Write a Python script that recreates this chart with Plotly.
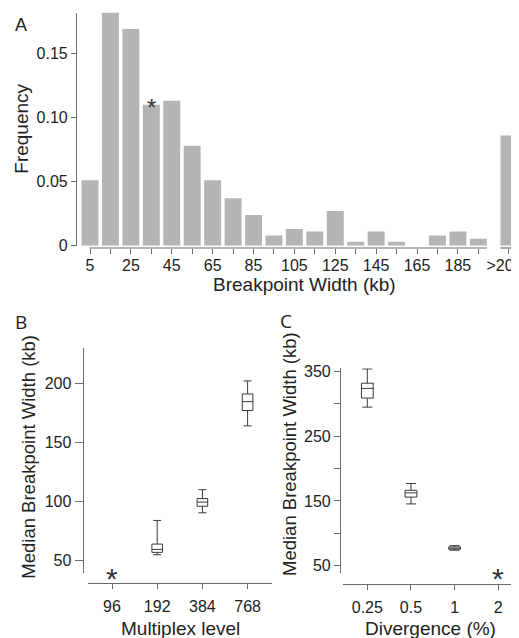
import plotly.graph_objects as go

# ---------------- data ----------------
# Panel A: histogram of breakpoint widths
bin_centers = [5, 15, 25, 35, 45, 55, 65, 75, 85, 95, 105, 115, 125, 135, 145, 155, 165, 175, 185, 195]
bin_freq = [0.051, 0.182, 0.169, 0.110, 0.113, 0.078, 0.051, 0.037, 0.024, 0.008,
            0.013, 0.011, 0.027, 0.003, 0.011, 0.003, 0.0, 0.008, 0.011, 0.0055]
bin_labels = ["5", "", "25", "", "45", "", "65", "", "85", "", "105", "", "125", "", "145", "", "165", "", "185", ""]
overflow_pos = 210
overflow_label = ">200"
overflow_freq = 0.086
starred_bin = 35

# Panel B: median breakpoint width by multiplex level
multiplex_levels = ["96", "192", "384", "768"]
mplx_box_idx = [1, 2, 3]
mplx_lowerfence = [55, 90.5, 164]
mplx_q1 = [57, 96, 177]
mplx_median = [59.5, 99.5, 184.5]
mplx_q3 = [64, 102.5, 191]
mplx_upperfence = [84, 110, 202]
mplx_star_idx = 0
mplx_star_value = 40

# Panel C: median breakpoint width by divergence
divergence_levels = ["0.25", "0.5", "1", "2"]
div_box_idx = [0, 1, 2]
div_lowerfence = [295, 145.5, 74]
div_q1 = [309, 156, 75.5]
div_median = [324, 162.5, 77]
div_q3 = [332, 166.5, 79]
div_upperfence = [354, 177, 81]
div_star_idx = 3
div_star_value = 40

# ---------------- figure ----------------
# the page body has an 8px margin, so the figure is 8px smaller and
# page coordinates are shifted by 8px
OFF = 8
PAGE_W, PAGE_H = 519, 638
W, H = PAGE_W - OFF, PAGE_H - OFF
def px(x):
    return (x - OFF) / W
def py(y):
    return 1 - (y - OFF) / H

AX = "#6a6a6a"
TXT = "#222222"
FONT = "Liberation Sans, Arial, sans-serif"

fig = go.Figure()

fig.add_trace(go.Bar(x=bin_centers + [overflow_pos], y=bin_freq + [overflow_freq], width=8.3,
                     marker=dict(color="#b5b5b5", line=dict(width=0)),
                     xaxis="x", yaxis="y", hoverinfo="skip"))

box_style = dict(fillcolor="rgba(0,0,0,0)", line=dict(color="#3a3a3a", width=1), boxpoints=False)
fig.add_trace(go.Box(x=mplx_box_idx, q1=mplx_q1, median=mplx_median, q3=mplx_q3,
                     lowerfence=mplx_lowerfence, upperfence=mplx_upperfence,
                     width=0.235, whiskerwidth=0.75, xaxis="x2", yaxis="y2", **box_style))
fig.add_trace(go.Box(x=div_box_idx, q1=div_q1, median=div_median, q3=div_q3,
                     lowerfence=div_lowerfence, upperfence=div_upperfence,
                     width=0.27, whiskerwidth=0.85, xaxis="x3", yaxis="y3", **box_style))

xA_range = [-1.36, 214.9]
xA_pos = py(248)

common_tick = dict(ticks="outside", tickcolor=AX, tickwidth=1.2, showgrid=False, zeroline=False,
                   automargin=False, tickfont=dict(size=16, color=TXT, family=FONT))

fig.update_layout(
    template="none",
    width=W, height=H, margin=dict(l=0, r=0, t=0, b=0, pad=0, autoexpand=False),
    paper_bgcolor="white", plot_bgcolor="white", showlegend=False,
    barmode="overlay",
    font=dict(family=FONT, size=16, color=TXT),
    xaxis=dict(domain=[px(77), 1], range=xA_range, anchor="free", position=xA_pos,
               tickvals=bin_centers + [overflow_pos],
               ticktext=bin_labels + [overflow_label + "\u00a0\u00a0"],
               ticklabeloverflow="allow", ticklabelstandoff=-2,
               showline=False, ticklen=5, tickangle=0, **common_tick),
    yaxis=dict(domain=[py(245.7), py(12.7)], range=[0, 0.1817], anchor="x",
               tickvals=[0, 0.05, 0.10, 0.15], ticktext=["0", "0.05", "0.10", "0.15"],
               showline=True, linecolor=AX, linewidth=1.2, ticklen=5, **common_tick),
    xaxis2=dict(domain=[px(87.7), px(271.7)], range=[-0.5376, 3.533], anchor="free", position=py(582.7),
                tickvals=[0, 1, 2, 3], ticktext=multiplex_levels, ticklabelstandoff=4,
                showline=True, linecolor=AX, linewidth=1.2, ticklen=5, **common_tick),
    yaxis2=dict(domain=[py(572.7), py(348.3)], range=[39.8, 229.6], anchor="free", position=px(82.7),
                tickvals=[50, 100, 150, 200], ticktext=["50", "100", "150", "200"],
                showline=True, linecolor=AX, linewidth=1.2, ticklen=8, **common_tick),
    xaxis3=dict(domain=[px(343.3), 1], range=[-0.55, 3.474], anchor="free", position=py(583.5),
                tickvals=[0, 1, 2, 3], ticktext=divergence_levels, ticklabelstandoff=4,
                ticklabeloverflow="allow",
                showline=True, linecolor=AX, linewidth=1.2, ticklen=5, **common_tick),
    yaxis3=dict(domain=[py(572.7), py(368.3)], range=[39.2, 355], anchor="free", position=px(340),
                tickvals=[50, 100, 150, 200, 250, 300, 350], ticktext=["50", "", "150", "", "250", "", "350"],
                showline=True, linecolor=AX, linewidth=1.2, ticklen=6, **common_tick),
)

# broken x-axis line of panel A
fig.add_shape(type="line", xref="x", yref="paper", x0=bin_centers[0] - 0.3, x1=bin_centers[-1] + 4.15,
              y0=xA_pos, y1=xA_pos, line=dict(color=AX, width=1.2))
fig.add_shape(type="line", xref="x", yref="paper", x0=overflow_pos - 4.15, x1=xA_range[1],
              y0=xA_pos, y1=xA_pos, line=dict(color=AX, width=1.2))

def label(text, x, y, size, angle=0, family=FONT):
    fig.add_annotation(text=text, x=px(x), y=py(y), xref="paper", yref="paper", showarrow=False,
                       textangle=angle, xanchor="center", yanchor="middle",
                       font=dict(size=size, color=TXT, family=family))

# panel letters
label("A", 20.8, 24.5, 18)
label("B", 20.8, 321.7, 19, family="Open Sans, Liberation Sans")
label("C", 286.3, 320.5, 19, family="Open Sans, Liberation Sans")
# axis titles
label("Breakpoint Width (kb)", 304, 284, 19)
label("Frequency", 21.7, 129, 19, angle=-90)
label("Median Breakpoint Width (kb)", 29, 456.7, 18.5, angle=-90)
label("Multiplex level", 180.8, 628.5, 19)
label("Median Breakpoint Width (kb)", 289, 454, 18.5, angle=-90)
label("Divergence (%)", 430.8, 628.5, 19)

# asterisks
star_font = dict(size=24, color="#333333", family=FONT)
fig.add_annotation(text="*", x=starred_bin, y=bin_freq[bin_centers.index(starred_bin)], xref="x", yref="y",
                   showarrow=False, yshift=-2.5, font=star_font)
fig.add_annotation(text="*", x=mplx_star_idx, y=mplx_star_value, xref="x2", yref="y2",
                   showarrow=False, yshift=-6, font=dict(size=30, color="#333333", family=FONT))
fig.add_annotation(text="*", x=div_star_idx, y=div_star_value, xref="x3", yref="y3",
                   showarrow=False, yshift=-6, font=dict(size=30, color="#333333", family=FONT))

fig.write_html("out.html")
